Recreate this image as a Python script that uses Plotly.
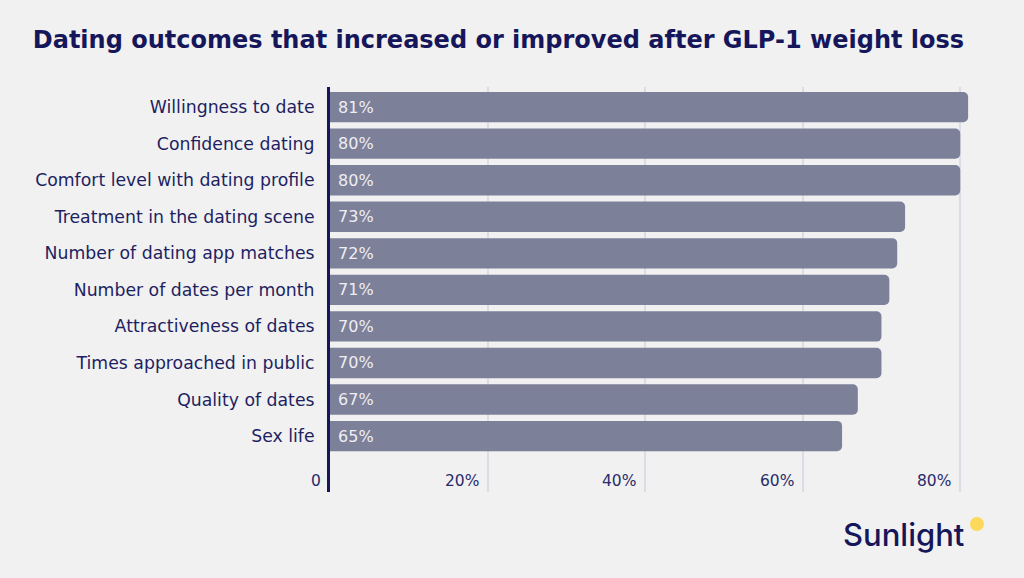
import plotly.graph_objects as go

categories = ["Willingness to date", "Confidence dating", "Comfort level with dating profile",
              "Treatment in the dating scene", "Number of dating app matches",
              "Number of dates per month", "Attractiveness of dates",
              "Times approached in public", "Quality of dates", "Sex life"]
values = [81, 80, 80, 73, 72, 71, 70, 70, 67, 65]
tick_vals = [0, 20, 40, 60, 80]
tick_text = ["0", "20%", "40%", "60%", "80%"]

NAVY = "#16175a"
BG = "#f1f1f1"
FONT = "DejaVu Sans"

# bottom-to-top order
cats_r = categories[::-1]
vals_r = values[::-1]

fig = go.Figure(go.Bar(
    x=vals_r, y=cats_r, orientation="h",
    marker=dict(color="#7d8099", cornerradius=5, line=dict(width=0)),
    width=0.83,
    text=[f" {v}%" for v in vals_r], textposition="inside", insidetextanchor="start",
    textfont=dict(color="#eeeef4", size=16, family=FONT),
    hoverinfo="skip",
))

annotations = [dict(text=t, x=v, xref="x", y=0, yref="paper", xanchor="right",
                    yanchor="middle", xshift=-7, yshift=11, showarrow=False,
                    font=dict(family=FONT, size=15.5, color="#2a2b6b"))
               for v, t in zip(tick_vals, tick_text)]
annotations.append(dict(text="Sunlight", xref="paper", yref="paper", x=1.0, y=-0.105,
                        xanchor="right", yanchor="middle", showarrow=False,
                        font=dict(family="Inter", size=31, color=NAVY, weight=500),
                        xshift=-10))

fig.update_layout(
    width=1024, height=578,
    paper_bgcolor=BG, plot_bgcolor=BG,
    margin=dict(l=330, r=48, t=87, b=86),
    showlegend=False,
    title=dict(text="<b>Dating outcomes that increased or improved after GLP-1 weight loss</b>",
               x=0.032, xanchor="left", y=0.932, yanchor="middle",
               font=dict(family="DejaVu Sans", size=24, color=NAVY)),
    xaxis=dict(range=[0, 82], tickvals=tick_vals, showticklabels=False,
               showgrid=True, gridcolor="#dcdce4",
               gridwidth=1.5, zeroline=False, showline=False, ticks=""),
    yaxis=dict(categoryorder="array", categoryarray=cats_r, range=[-1.53, 9.55],
               showline=True, linecolor=NAVY, linewidth=3, ticks="", showgrid=False,
               ticklabelstandoff=9,
               tickfont=dict(family=FONT, size=17.3, color="#1e1f62")),
    annotations=annotations,
    shapes=[dict(type="circle", xref="paper", yref="paper",
                 xsizemode="pixel", ysizemode="pixel", xanchor=1.0015, yanchor=-0.079,
                 x0=-7, x1=7, y0=-7, y1=7,
                 line=dict(width=0), fillcolor="#fcd95a")],
)
fig.write_html("out.html")
